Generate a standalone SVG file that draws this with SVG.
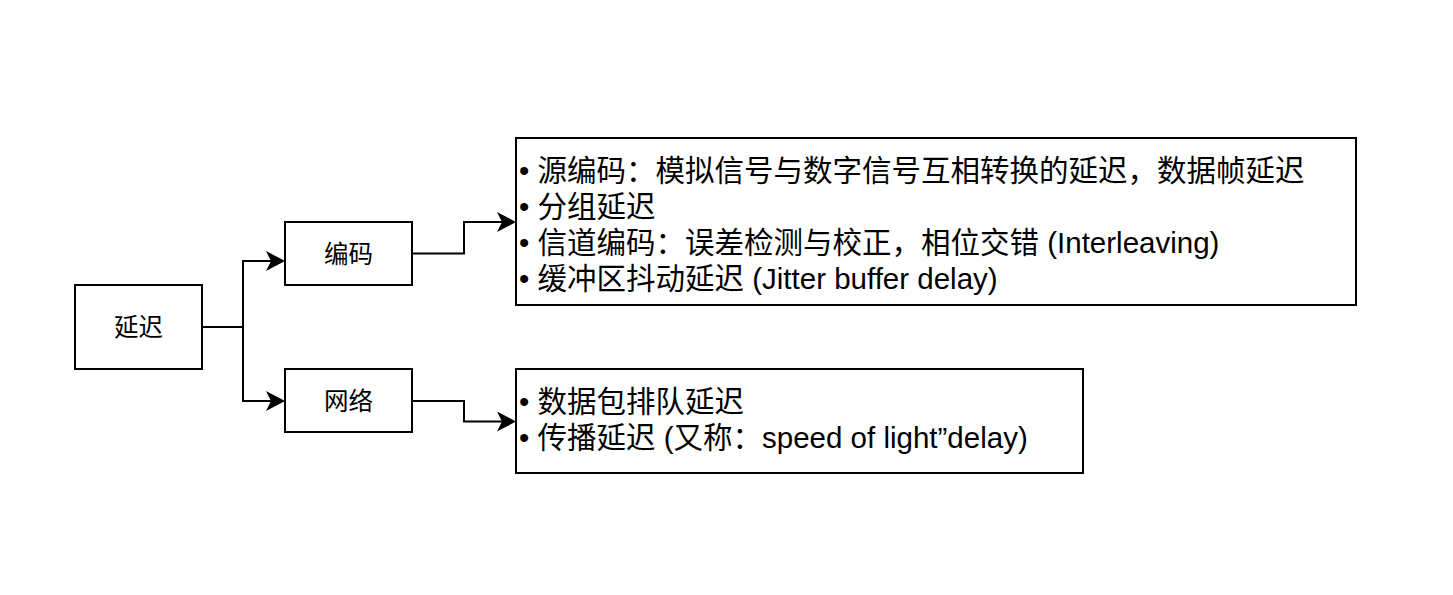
<svg xmlns="http://www.w3.org/2000/svg" width="1453" height="595" viewBox="0 0 1453 595">
<style>
.box{fill:#fff;stroke:#000;stroke-width:2}
.lbl{font-family:"Liberation Sans","Noto Sans CJK SC",sans-serif;font-size:24.5px;fill:#000;text-anchor:middle}
.txt{font-family:"Liberation Sans","Noto Sans CJK SC",sans-serif;font-size:29.5px;fill:#000}
.edge{fill:none;stroke:#000;stroke-width:2}
</style>
<defs>
<marker id="arr" markerUnits="userSpaceOnUse" markerWidth="19" markerHeight="20" viewBox="0 0 19 20" refX="5" refY="10" orient="auto">
<path d="M19,10 L0,0 L5,10 L0,20 Z" fill="#000"/>
</marker>
</defs>
<rect width="1453" height="595" fill="#fff"/>
<g id="connectors">
<path class="edge" d="M202,327 H243 V261 H271" marker-end="url(#arr)"/>
<path class="edge" d="M202,327 H243 V401 H271" marker-end="url(#arr)"/>
<path class="edge" d="M412,253.5 H464 V222 H502" marker-end="url(#arr)"/>
<path class="edge" d="M412,401 H464 V421.5 H502" marker-end="url(#arr)"/>
</g>
<g id="node-delay">
<rect class="box" x="75" y="285" width="127" height="84"/>
<text class="lbl" x="138.5" y="336">延迟</text>
</g>
<g id="node-coding">
<rect class="box" x="285" y="222" width="127" height="63"/>
<text class="lbl" x="348.5" y="262.5">编码</text>
</g>
<g id="node-network">
<rect class="box" x="285" y="369" width="127" height="63"/>
<text class="lbl" x="348.5" y="409.5">网络</text>
</g>
<g id="node-coding-detail">
<rect class="box" x="516" y="138" width="840" height="167"/>
<text class="txt">
<tspan x="519" y="181">• 源编码：模拟信号与数字信号互相转换的延迟，数据帧延迟</tspan>
<tspan x="519" y="217">• 分组延迟</tspan>
<tspan x="519" y="253">• 信道编码：误差检测与校正，相位交错 (Interleaving)</tspan>
<tspan x="519" y="289">• 缓冲区抖动延迟 (Jitter buffer delay)</tspan>
</text>
</g>
<g id="node-network-detail">
<rect class="box" x="516" y="369" width="567" height="104"/>
<text class="txt">
<tspan x="519" y="412">• 数据包排队延迟</tspan>
<tspan x="519" y="448">• 传播延迟 (又称：speed of light”delay)</tspan>
</text>
</g>
</svg>
